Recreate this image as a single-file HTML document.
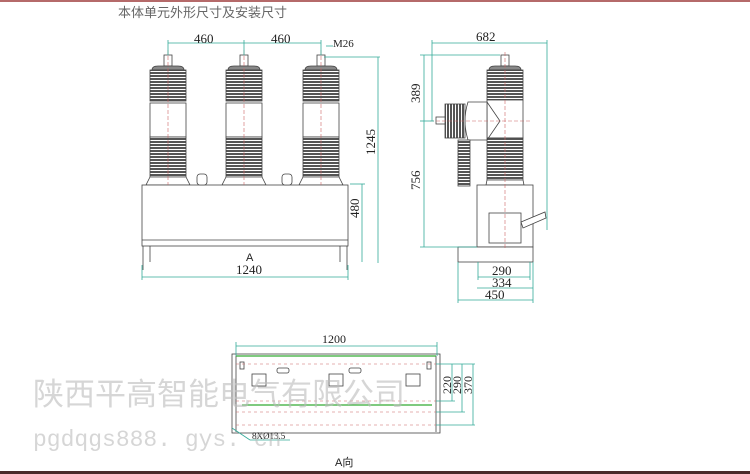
<!DOCTYPE html>
<html><head><meta charset="utf-8"><style>
html,body{margin:0;padding:0;background:#fff;width:750px;height:474px;overflow:hidden}
svg{display:block}
</style></head><body>
<svg width="750" height="474" viewBox="0 0 750 474" xmlns="http://www.w3.org/2000/svg" font-family="Liberation Serif, serif">
<defs>
<pattern id="sh" width="4" height="3" patternUnits="userSpaceOnUse"><rect width="4" height="3" fill="#fff"/><rect width="4" height="2" fill="#555"/></pattern>
<pattern id="shv" width="3" height="4" patternUnits="userSpaceOnUse"><rect width="3" height="4" fill="#fff"/><rect width="2" height="4" fill="#555"/></pattern>
</defs>
<rect x="0" y="0" width="750" height="2" fill="#b56a6a"/>
<rect x="0" y="471" width="750" height="3" fill="#4a2a2a"/>
<text x="118" y="17" font-family="Liberation Sans, Noto Sans CJK SC, sans-serif" font-size="13" fill="#666">本体单元外形尺寸及安装尺寸</text>

<g stroke="#444" stroke-width="0.8">
<g id="ins">
<rect x="164" y="55" width="8" height="11" fill="#fff"/>
<path d="M152 70 Q152 66 158 66 L178 66 Q184 66 184 70 Z" fill="#888"/>
<rect x="150" y="70" width="36" height="31" fill="url(#sh)"/>
<rect x="150" y="103" width="36" height="34" fill="#fff"/>
<rect x="150" y="137" width="36" height="40" fill="url(#sh)"/>
<path d="M150 177 L186 177 L190 185 L146 185 Z" fill="#fff"/>
</g>
<use href="#ins" x="76"/>
<use href="#ins" x="153"/>
<rect x="142" y="185" width="206" height="61" fill="#fff"/>
<line x1="142" y1="240" x2="348" y2="240"/>
<path d="M143 246 V270 M150 246 V262 M347 246 V270 M340 246 V262" fill="none"/>
<rect x="197" y="174" width="10" height="11" rx="3" fill="#fff"/>
<rect x="282" y="174" width="10" height="11" rx="3" fill="#fff"/>
</g>
<g stroke="#c66" stroke-width="0.6" stroke-dasharray="4 2">
<line x1="168" y1="50" x2="168" y2="185"/><line x1="244" y1="50" x2="244" y2="185"/><line x1="321" y1="50" x2="321" y2="185"/>
</g>
<g stroke="#3a9" stroke-width="0.8" fill="none">
<line x1="168" y1="43" x2="321" y2="43"/><line x1="168" y1="40" x2="168" y2="55"/><line x1="244" y1="40" x2="244" y2="55"/><line x1="321" y1="40" x2="321" y2="55"/>
<line x1="326" y1="46" x2="333" y2="46"/>
<line x1="324" y1="57" x2="380" y2="57"/><line x1="378" y1="57" x2="378" y2="263"/>
<line x1="350" y1="184" x2="365" y2="184"/><line x1="362" y1="184" x2="362" y2="262"/>
<line x1="142" y1="277" x2="348" y2="277"/><line x1="142" y1="265" x2="142" y2="280"/><line x1="348" y1="265" x2="348" y2="280"/>
</g>
<g font-size="13" fill="#222">
<text x="194" y="43">460</text><text x="271" y="43">460</text>
<text x="333" y="47" font-size="11">M26</text>
<text x="236" y="274">1240</text>
<text x="246" y="261" font-family="Liberation Sans, sans-serif" font-size="11">A</text>
<text transform="translate(375,155) rotate(-90)">1245</text>
<text transform="translate(359,218) rotate(-90)">480</text>
</g>

<g stroke="#444" stroke-width="0.8">
<rect x="501" y="55" width="8" height="11" fill="#fff"/>
<path d="M489 70 Q489 66 495 66 L515 66 Q521 66 521 70 Z" fill="#888"/>
<rect x="487" y="70" width="36" height="30" fill="url(#sh)"/>
<rect x="487" y="100" width="36" height="38" fill="#fff"/>
<rect x="487" y="138" width="36" height="42" fill="url(#sh)"/>
<path d="M487 180 L523 180 L524 185 L486 185 Z" fill="#fff"/>
<path d="M468 102 L487 102 L487 140 L468 140 Q462 121 468 102 Z" fill="#fff"/>
<path d="M487 102 L500 121 L487 140" fill="none"/>
<rect x="445" y="104" width="20" height="34" fill="url(#shv)"/>
<rect x="436" y="117" width="9" height="7" fill="#fff"/>
<rect x="458" y="140" width="12" height="46" fill="url(#sh)"/>
<rect x="477" y="185" width="56" height="62" fill="#fff"/>
<rect x="489" y="213" width="32" height="30" fill="#fff"/>
<path d="M521 222 L545 212 L546 218 L523 228 Z" fill="#fff"/>
<rect x="458" y="247" width="75" height="15" fill="#fff"/>
</g>
<g stroke="#c66" stroke-width="0.6" stroke-dasharray="4 2">
<line x1="505" y1="52" x2="505" y2="250"/><line x1="430" y1="121" x2="530" y2="121"/>
</g>
<g stroke="#3a9" stroke-width="0.8" fill="none">
<line x1="432" y1="43" x2="547" y2="43"/><line x1="432" y1="40" x2="432" y2="121"/><line x1="547" y1="40" x2="547" y2="230"/>
<line x1="424" y1="55" x2="424" y2="247"/><line x1="420" y1="55" x2="500" y2="55"/><line x1="420" y1="121" x2="434" y2="121"/><line x1="420" y1="247" x2="477" y2="247"/>
<line x1="478" y1="277" x2="530" y2="277"/><line x1="477" y1="288" x2="533" y2="288"/><line x1="458" y1="300" x2="533" y2="300"/>
<line x1="478" y1="262" x2="478" y2="280"/><line x1="530" y1="262" x2="530" y2="280"/><line x1="458" y1="262" x2="458" y2="303"/><line x1="533" y1="262" x2="533" y2="303"/>
</g>
<g font-size="13" fill="#222">
<text x="476" y="41">682</text>
<text transform="translate(420,103) rotate(-90)">389</text>
<text transform="translate(420,190) rotate(-90)">756</text>
<text x="492" y="275">290</text><text x="492" y="287">334</text><text x="485" y="299">450</text>
</g>

<g stroke="#444" stroke-width="0.8" fill="none">
<rect x="232" y="354" width="208" height="79"/>
<line x1="236" y1="356" x2="236" y2="432"/><line x1="436" y1="356" x2="436" y2="432"/>
<rect x="252" y="374" width="14" height="12"/><rect x="329" y="374" width="14" height="12"/><rect x="406" y="374" width="14" height="12"/>
<rect x="277" y="368" width="12" height="5" rx="2"/><rect x="349" y="368" width="12" height="5" rx="2"/>
<rect x="240" y="362" width="4" height="7"/><rect x="427" y="362" width="4" height="7"/>
</g>
<g stroke="#3a3" stroke-width="1.2"><line x1="236" y1="356" x2="436" y2="356"/><line x1="242" y1="405" x2="432" y2="405"/></g>
<g stroke="#c66" stroke-width="0.6" stroke-dasharray="3 3">
<line x1="236" y1="364" x2="436" y2="364"/><line x1="236" y1="401" x2="436" y2="401"/><line x1="236" y1="412" x2="436" y2="412"/><line x1="236" y1="425" x2="436" y2="425"/>
</g>
<g stroke="#3a9" stroke-width="0.8" fill="none">
<line x1="236" y1="346" x2="437" y2="346"/><line x1="236" y1="342" x2="236" y2="356"/><line x1="437" y1="342" x2="437" y2="356"/>
<line x1="436" y1="364" x2="475" y2="364"/><line x1="436" y1="401" x2="455" y2="401"/><line x1="436" y1="412" x2="465" y2="412"/><line x1="436" y1="425" x2="475" y2="425"/>
<line x1="452" y1="364" x2="452" y2="401"/><line x1="462" y1="364" x2="462" y2="412"/><line x1="473" y1="364" x2="473" y2="425"/>
<line x1="232" y1="428" x2="250" y2="440"/><line x1="250" y1="440" x2="290" y2="440"/>
</g>
<g font-size="12" fill="#222">
<text x="322" y="343">1200</text>
<text transform="translate(451,394) rotate(-90)">220</text>
<text transform="translate(461,394) rotate(-90)">290</text>
<text transform="translate(472,394) rotate(-90)">370</text>
<text x="252" y="439" font-size="9">8XØ13.5</text>
</g>
<text x="335" y="466" font-family="Liberation Sans, Noto Sans CJK SC, sans-serif" font-size="11" fill="#222">A向</text>

<text x="33" y="405" font-family="Liberation Sans, Noto Sans CJK SC, sans-serif" font-size="31" fill="#bbb" fill-opacity="0.6">陕西平高智能电气有限公司</text>
<text x="33" y="446" font-family="Liberation Mono, monospace" font-size="23" fill="#bbb" fill-opacity="0.6">pgdqgs888. gys. cn</text>
</svg>
</body></html>
